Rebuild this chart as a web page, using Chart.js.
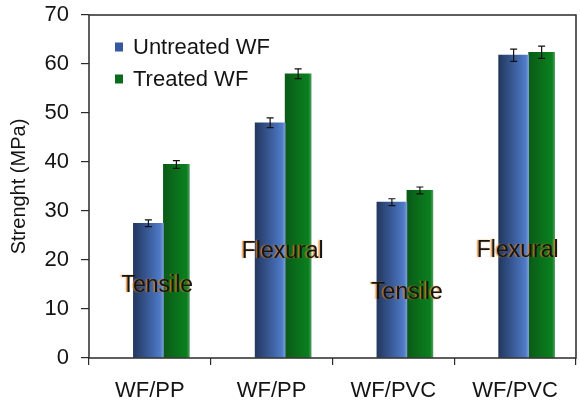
<!DOCTYPE html>
<html>
<head>
<meta charset="utf-8">
<script src="https://cdn.jsdelivr.net/npm/chart.js@4/dist/chart.umd.min.js"></script>
<style>
  html, body { margin: 0; padding: 0; background: #fff; }
  #wrap { width: 580px; height: 401px; }
</style>
</head>
<body>
<div id="wrap"><canvas id="c" width="580" height="401"></canvas></div>
<script>
// Composite strength data (MPa)
const categories = ['WF/PP', 'WF/PP', 'WF/PVC', 'WF/PVC'];
const testTypes = ['Tensile', 'Flexural', 'Tensile', 'Flexural'];
const untreated = [27.5, 48, 31.8, 61.8];
const untreatedErr = [0.7, 1.0, 0.7, 1.25];
const treated = [39.5, 58, 34.2, 62.4];
const treatedErr = [0.8, 1.0, 0.7, 1.25];
const yTicks = [0, 10, 20, 30, 40, 50, 60, 70];

const FONT = '"Liberation Sans", Arial, Helvetica, sans-serif';
const INK = '#141414';

// Where each test-type caption sits: offset from the group centre (in category units) and height (in MPa)
const captionPlacement = [
  { dx: -0.05, y: 14.7 },
  { dx: -0.02, y: 21.8 },
  { dx: 0.00, y: 13.4 },
  { dx: -0.09, y: 22.0 }
];

const BLUE_W = 30, GREEN_W = 26;

const blueStops = [[0, '#23375f'], [0.55, '#3c5f9f'], [0.9, '#4f7bc8'], [1, '#7d9cd6']];
const greenStops = [[0, '#0a5a17'], [0.5, '#0a701b'], [0.9, '#0a801f'], [1, '#4c9a5a']];

// Horizontal shading across every bar, computed from the laid-out bar elements
const shadingPlugin = {
  id: 'shading',
  beforeDatasetsDraw(chart) {
    const ctx = chart.ctx;
    chart.data.datasets.forEach((ds, di) => {
      const meta = chart.getDatasetMeta(di);
      meta.data.forEach(el => {
        const x0 = el.x - el.width / 2, x1 = el.x + el.width / 2;
        if (!isFinite(x0) || !isFinite(x1)) return;
        const g = ctx.createLinearGradient(x0, 0, x1, 0);
        ds.shade.forEach(s => g.addColorStop(s[0], s[1]));
        el.options = Object.assign({}, el.options, { backgroundColor: g });
      });
    });
  }
};

// Error bars on top of each bar
const errorBarPlugin = {
  id: 'errorBars',
  afterDatasetsDraw(chart) {
    const ctx = chart.ctx;
    const y = chart.scales.y;
    ctx.save();
    ctx.strokeStyle = '#111';
    ctx.lineWidth = 1.2;
    chart.data.datasets.forEach((ds, di) => {
      const meta = chart.getDatasetMeta(di);
      meta.data.forEach((el, i) => {
        const v = ds.data[i].y, e = ds.errors[i];
        const yt = y.getPixelForValue(v + e), yb = y.getPixelForValue(v - e);
        const x = el.x;
        ctx.beginPath();
        ctx.moveTo(x, yt); ctx.lineTo(x, yb);
        ctx.moveTo(x - 3.5, yt); ctx.lineTo(x + 3.5, yt);
        ctx.moveTo(x - 3.5, yb); ctx.lineTo(x + 3.5, yb);
        ctx.stroke();
      });
    });
    ctx.restore();
  }
};

// Test-type captions drawn over the bar groups
const captionPlugin = {
  id: 'captions',
  afterDatasetsDraw(chart) {
    const ctx = chart.ctx;
    const xb = chart.scales.xb, y = chart.scales.y;
    ctx.save();
    ctx.font = '23px ' + FONT;
    ctx.textAlign = 'center';
    ctx.textBaseline = 'middle';
    testTypes.forEach((t, i) => {
      const pl = captionPlacement[i];
      const px = xb.getPixelForValue(i + pl.dx);
      const py = y.getPixelForValue(pl.y);
      ctx.shadowColor = 'rgba(225,125,20,0.85)';
      ctx.shadowOffsetX = -1.5;
      ctx.shadowOffsetY = 0;
      ctx.shadowBlur = 1.5;
      ctx.fillStyle = INK;
      ctx.fillText(t, px, py);
    });
    ctx.restore();
  }
};

// Plot frame and the in-plot legend
const framePlugin = {
  id: 'frame',
  afterDraw(chart) {
    const ctx = chart.ctx;
    const a = chart.chartArea;
    ctx.save();
    ctx.strokeStyle = '#2a2a2a';
    ctx.lineWidth = 1.5;
    ctx.strokeRect(a.left, a.top, a.right - a.left, a.bottom - a.top);

    ctx.font = '22px ' + FONT;
    ctx.textBaseline = 'middle';
    ctx.textAlign = 'left';
    const rowY = [47, 79];
    chart.data.datasets.forEach((ds, di) => {
      const yy = rowY[di];
      ctx.fillStyle = ds.legendColor;
      ctx.fillRect(a.left + 26, yy - 4.5, 8, 9);
      ctx.fillStyle = INK;
      ctx.fillText(ds.label, a.left + 44, yy + 1);
    });
    ctx.restore();
  }
};

new Chart(document.getElementById('c'), {
  type: 'bar',
  data: {
    labels: categories,
    datasets: [
      {
        label: 'Untreated WF',
        data: untreated.map((v, i) => ({ x: i, y: v })),
        errors: untreatedErr,
        xAxisID: 'xb',
        barThickness: BLUE_W,
        legendColor: '#3558a0',
        shade: blueStops,
        backgroundColor: '#3c5f9f',
        borderWidth: 0
      },
      {
        label: 'Treated WF',
        data: treated.map((v, i) => ({ x: i, y: v })),
        errors: treatedErr,
        xAxisID: 'xb',
        barThickness: GREEN_W,
        legendColor: '#0b6a1c',
        shade: greenStops,
        backgroundColor: '#0a701b',
        borderWidth: 0
      }
    ]
  },
  options: {
    responsive: false,
    animation: false,
    devicePixelRatio: 1,
    layout: { padding: { top: 15, right: 4, bottom: 0, left: 0 } },
    plugins: {
      legend: { display: false },
      tooltip: { enabled: false }
    },
    scales: {
      x: {
        type: 'category',
        offset: true,
        grid: { offset: true, drawOnChartArea: false, tickLength: 7, color: '#2a2a2a', lineWidth: 1.2 },
        border: { display: false },
        ticks: { color: INK, font: { family: FONT, size: 22 }, padding: 13, maxRotation: 0 },
        afterFit(s) { s.height = 43; s.paddingLeft = 0; s.paddingRight = 0; }
      },
      xb: {
        type: 'linear',
        display: false,
        offset: false,
        min: -0.611,
        max: 3.389
      },
      y: {
        min: 0,
        max: 70,
        afterBuildTicks(s) { s.ticks = yTicks.map(v => ({ value: v })); },
        grid: { drawOnChartArea: false, tickLength: 8, color: '#2a2a2a', lineWidth: 1.2 },
        border: { display: false },
        ticks: { color: INK, font: { family: FONT, size: 22 }, padding: 12 },
        title: {
          display: true,
          text: 'Strenght (MPa)',
          color: INK,
          font: { family: FONT, size: 20 },
          padding: { top: 7, bottom: 0 }
        },
        afterFit(s) { s.width = 89; s.paddingTop = 0; s.paddingBottom = 0; }
      }
    }
  },
  plugins: [shadingPlugin, errorBarPlugin, captionPlugin, framePlugin]
});
</script>
</body>
</html>
